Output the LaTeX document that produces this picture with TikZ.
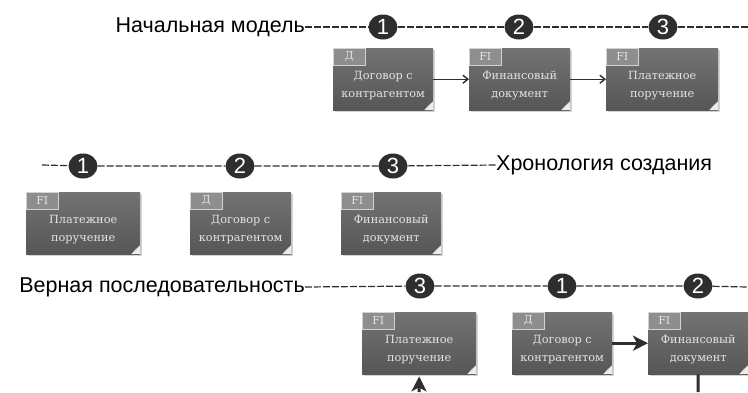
\documentclass[tikz,border=0pt]{standalone}
\usepackage{fontspec}
\setmainfont{DejaVu Serif}
\newfontfamily\headfont{Liberation Sans}
\usetikzlibrary{shapes.geometric,arrows.meta,shadows,backgrounds}
\definecolor{boxtop}{HTML}{737373}
\definecolor{boxbot}{HTML}{565656}
\definecolor{tabc}{HTML}{8E8E8E}
\definecolor{ink}{HTML}{2E2E2E}
\definecolor{txt}{HTML}{E4E4E4}
\tikzset{
  doc/.style={rectangle, draw=none, minimum height=62pt, inner sep=0pt, anchor=north west,
    top color=boxtop, bottom color=boxbot,
    drop shadow={shadow xshift=1.5pt, shadow yshift=-1.5pt, opacity=0.35},
    path picture={
      \fill[white!85!gray] ([xshift=-9pt]path picture bounding box.south east) -- ([yshift=9pt]path picture bounding box.south east) -- (path picture bounding box.south east) -- cycle;
      \fill[gray!75] ([xshift=-9pt]path picture bounding box.south east) -- ([yshift=9pt]path picture bounding box.south east) -- ([shift={(-5pt,5pt)}]path picture bounding box.south east) -- cycle;
    }},
  tab/.style={rectangle, anchor=north west, fill=tabc, draw=white!60!tabc, line width=0.5pt,
    minimum width=32pt, minimum height=17pt, inner sep=0pt, text=txt,
    font=\fontsize{11}{11}\selectfont},
  doctext/.style={align=center, text=txt, font=\fontsize{11.3}{18}\selectfont, inner sep=0pt},
  num/.style={ellipse, fill=ink, minimum width=29pt, minimum height=25pt, inner sep=0pt, text=white, font=\headfont\fontsize{22}{22}\selectfont},
  title/.style={font=\headfont\fontsize{21.5}{21.5}\selectfont, text=black, inner sep=0pt},
  dashline/.style={draw=ink, line width=1.2pt, dash pattern=on 7pt off 2pt},
  thinarrow/.style={draw=ink, line width=1.4pt, -{Straight Barb[length=5pt,width=8pt]}},
  thickarrow/.style={draw=ink, line width=3pt, -{Stealth[length=15pt,width=15pt,inset=4pt]}},
  thickline/.style={draw=ink, line width=3pt},
}
\begin{document}
\begin{tikzpicture}[x=1pt,y=-1pt]
\useasboundingbox (0,0) rectangle (748,392);
% row 1
\node[title, anchor=east] (t1) at (305,27) {Начальная модель};
\node[num] (c11) at (383,27) {1};
\node[num] (c12) at (519,27) {2};
\node[num] (c13) at (663,27) {3};
\coordinate (e1) at (748,27);
\node[doc, minimum width=100pt] (b11) at (333,48) {};
\node[doc, minimum width=101pt] (b12) at (469,48) {};
\node[doc, minimum width=112pt] (b13) at (606,48) {};
\node[tab] (b11g) at (b11.north west) {Д};
\node[tab] (b12g) at (b12.north west) {FI};
\node[tab] (b13g) at (b13.north west) {FI};
\node[doctext] (b11t) at ([yshift=-6pt]b11.center) {Договор с\\контрагентом};
\node[doctext] (b12t) at ([yshift=-6pt]b12.center) {Финансовый\\документ};
\node[doctext] (b13t) at ([yshift=-6pt]b13.center) {Платежное\\поручение};
\draw[thinarrow] (b11.east) -- (b12.west);
\draw[thinarrow] (b12.east) -- (b13.west);
% row 2
\node[title, anchor=west] (t2) at (496,165) {Хронология создания};
\node[num] (c21) at (83,166) {1};
\node[num] (c22) at (240,166) {2};
\node[num] (c23) at (393,166) {3};
\coordinate (e2) at (42,165);
\node[doc, minimum width=114pt] (b21) at (26,192) {};
\node[doc, minimum width=101pt] (b22) at (190,192) {};
\node[doc, minimum width=100pt] (b23) at (341,192) {};
\node[tab] (b21g) at (b21.north west) {FI};
\node[tab] (b22g) at (b22.north west) {Д};
\node[tab] (b23g) at (b23.north west) {FI};
\node[doctext] (b21t) at ([yshift=-6pt]b21.center) {Платежное\\поручение};
\node[doctext] (b22t) at ([yshift=-6pt]b22.center) {Договор с\\контрагентом};
\node[doctext] (b23t) at ([yshift=-6pt]b23.center) {Финансовый\\документ};
% row 3
\node[title, anchor=east] (t3) at (305,287) {Верная последовательность};
\node[num] (c31) at (420,286) {3};
\node[num] (c32) at (562,286) {1};
\node[num] (c33) at (698,286) {2};
\coordinate (e3) at (748,287);
\node[doc, minimum width=114pt] (b31) at (362,312) {};
\node[doc, minimum width=100pt] (b32) at (512,312) {};
\node[doc, minimum width=100pt] (b33) at (648,312) {};
\node[tab] (b31g) at (b31.north west) {FI};
\node[tab] (b32g) at (b32.north west) {Д};
\node[tab] (b33g) at (b33.north west) {FI};
\node[doctext] (b31t) at ([yshift=-6pt]b31.center) {Платежное\\поручение};
\node[doctext] (b32t) at ([yshift=-6pt]b32.center) {Договор с\\контрагентом};
\node[doctext] (b33t) at ([yshift=-6pt]b33.center) {Финансовый\\документ};
\draw[thickarrow] (b32.east) -- (b33.west);
\coordinate (s1) at (698,392);
\coordinate (s2) at (419,392);
\draw[thickline] (b33.south) -- (s1);
\draw[thickarrow] (s2) -- ([yshift=-2pt]b31.south);
% dashed timelines
\begin{scope}[on background layer]
\draw[dashline] (t1.east) -- (c11) -- (c12) -- (c13) -- (e1);
\draw[dashline] (e2) -- (c21) -- (c22) -- (c23) -- (t2.west);
\draw[dashline] (t3.east) -- (c31) -- (c32) -- (c33) -- (e3);
\end{scope}
\end{tikzpicture}
\end{document}
